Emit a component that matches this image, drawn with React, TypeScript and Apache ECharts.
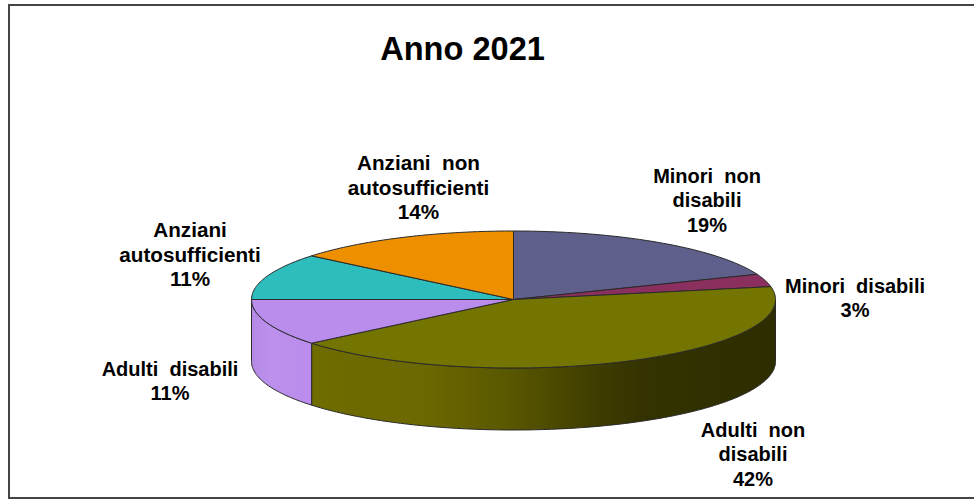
import React, { useEffect, useRef } from "react";
import * as echarts from "echarts";

const titleText = "Anno 2021";
const categories = [
  "Minori non disabili",
  "Minori disabili",
  "Adulti non disabili",
  "Adulti disabili",
  "Anziani autosufficienti",
  "Anziani non autosufficienti",
];
const values = [19, 3, 42, 11, 11, 14];
const labelLines = [
  ["Minori  non", "disabili", "19%"],
  ["Minori  disabili", "3%"],
  ["Adulti  non", "disabili", "42%"],
  ["Adulti  disabili", "11%"],
  ["Anziani", "autosufficienti", "11%"],
  ["Anziani  non", "autosufficienti", "14%"],
];
const topColors = ["#5F5F8C", "#8B2F5F", "#747400", "#BA8CEC", "#2DBDBD", "#EE8F00"];
const sideStops: [number, string][][] = [
  [[0, "#5F5F8C"], [1, "#5F5F8C"]],
  [[0, "#8B2F5F"], [1, "#8B2F5F"]],
  [[0, "#6F6D00"], [0.25, "#6A6800"], [0.42, "#5A5800"], [0.62, "#3E3C00"], [0.72, "#333200"], [1, "#2E2D00"]],
  [[0, "#B588E6"], [0.3, "#BC90EC"], [1, "#BA8CEC"]],
  [[0, "#2DBDBD"], [1, "#2DBDBD"]],
  [[0, "#EE8F00"], [1, "#EE8F00"]],
];

const CX = 513.5;
const CY = 299.5;
const RX = 262;
const RY = 68.5;
const DEPTH = 62;
const FONT = "'Liberation Sans', Arial, sans-serif";
const LABEL_CENTER: [number, number][] = [
  [707, 200],
  [855, 298],
  [753, 454],
  [170, 381],
  [190, 254],
  [418.5, 187],
];
const LABEL_SIZE = [20, 20, 20, 20, 20.7, 20.7];
const total = values.reduce((a, b) => a + b, 0);

function pt(deg: number, dy = 0): number[] {
  const a = (deg * Math.PI) / 180;
  return [CX + RX * Math.sin(a), CY - RY * Math.cos(a) + dy];
}
function arc(from: number, to: number, dy = 0): number[][] {
  const n = Math.max(2, Math.ceil(Math.abs(to - from)));
  const out: number[][] = [];
  for (let i = 0; i <= n; i++) out.push(pt(from + ((to - from) * i) / n, dy));
  return out;
}

export default function App() {
  const ref = useRef<HTMLDivElement>(null);
  useEffect(() => {
    const chart = echarts.init(ref.current!, undefined, { renderer: "svg" });
    const stroke = { stroke: "#2a2a2a", lineWidth: 1 };
    chart.setOption({
      animation: false,
      backgroundColor: "#ffffff",
      title: {
        text: titleText,
        left: 457.5,
        top: 27,
        textAlign: "center",
        textStyle: { fontFamily: FONT, fontSize: 32.6, fontWeight: "bold", color: "#000" },
      },
      graphic: [
        {
          type: "polyline",
          silent: true,
          shape: { points: [[974, 5], [9, 5], [9, 498], [974, 498]] },
          style: { fill: "none", stroke: "#444", lineWidth: 2 },
        },
      ],
      series: [
        {
          type: "custom",
          coordinateSystem: "none",
          data: values.map((v, i) => ({ name: categories[i], value: v })),
          renderItem: (params: any, api: any) => {
            const i = params.dataIndex;
            const before = values.slice(0, i).reduce((a, b) => a + b, 0);
            const start = (before / total) * 360;
            const end = ((before + api.value(0)) / total) * 360;
            const children: any[] = [];
            const s = Math.max(start, 90);
            const e = Math.min(end, 270);
            if (e > s) {
              children.push({
                type: "polygon",
                shape: { points: [...arc(s, e), ...arc(e, s, DEPTH)] },
                style: {
                  fill: {
                    type: "linear", x: 0, y: 0, x2: 1, y2: 0,
                    colorStops: sideStops[i].map(([offset, color]) => ({ offset, color })),
                  },
                  ...stroke,
                },
              });
            }
            children.push({
              type: "polygon",
              z2: 5,
              shape: { points: [[CX, CY], ...arc(start, end)] },
              style: { fill: topColors[i], ...stroke },
            });
            children.push({
              type: "text",
              z2: 10,
              x: LABEL_CENTER[i][0],
              y: LABEL_CENTER[i][1],
              style: {
                text: labelLines[i].join("\n"),
                align: "center",
                verticalAlign: "middle",
                lineHeight: 24.5,
                font: `bold ${LABEL_SIZE[i]}px ${FONT}`,
                fill: "#000",
              },
            });
            return { type: "group", children };
          },
        },
      ],
    });
    return () => chart.dispose();
  }, []);
  return <div ref={ref} style={{ position: "fixed", left: 0, top: 0, width: 974, height: 500 }} />;
}
